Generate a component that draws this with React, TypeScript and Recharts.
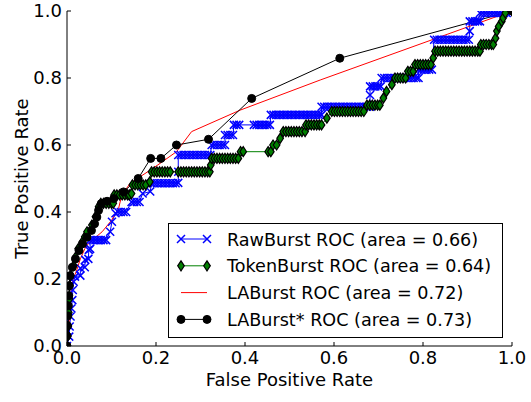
import { Legend, Line, LineChart, XAxis, YAxis } from 'recharts';

// axis ticks (both axes run 0..1)
const ticks = [0, 0.2, 0.4, 0.6, 0.8, 1.0];

// RawBurst ROC points [fpr, tpr]
const rawRoc: [number, number][] = [
  [0, 0], [0.005, 0.028], [0.006, 0.058], [0.008, 0.088], [0.01, 0.112], [0.012, 0.137], [0.013, 0.167], [0.015, 0.192],
  [0.018, 0.207], [0.03, 0.21], [0.03, 0.232], [0.04, 0.235], [0.041, 0.257], [0.048, 0.26], [0.049, 0.287], [0.052, 0.29],
  [0.052, 0.316], [0.058, 0.316], [0.064, 0.316], [0.07, 0.316], [0.076, 0.316], [0.082, 0.316], [0.088, 0.316],
  [0.097, 0.341], [0.101, 0.371], [0.109, 0.396], [0.115, 0.4], [0.121, 0.4], [0.127, 0.4], [0.133, 0.4],
  [0.145, 0.43], [0.151, 0.43], [0.157, 0.43], [0.163, 0.43], [0.17, 0.455], [0.187, 0.461],
  [0.19, 0.486], [0.196, 0.486], [0.202, 0.486], [0.208, 0.486], [0.214, 0.486], [0.22, 0.486], [0.226, 0.486], [0.232, 0.486],
  [0.238, 0.486], [0.244, 0.486], [0.25, 0.487], [0.25, 0.52], [0.25, 0.57],
  [0.256, 0.57], [0.262, 0.57], [0.268, 0.57], [0.274, 0.57], [0.28, 0.57], [0.286, 0.57], [0.292, 0.57], [0.298, 0.57],
  [0.304, 0.57], [0.31, 0.57], [0.316, 0.57], [0.322, 0.57], [0.325, 0.6], [0.331, 0.6], [0.337, 0.6], [0.343, 0.6],
  [0.349, 0.6], [0.355, 0.6], [0.355, 0.63], [0.361, 0.63], [0.367, 0.63], [0.373, 0.63], [0.375, 0.66], [0.381, 0.66],
  [0.387, 0.66], [0.42, 0.66], [0.426, 0.66], [0.432, 0.66], [0.438, 0.66], [0.444, 0.66], [0.45, 0.66], [0.456, 0.66],
  [0.458, 0.69], [0.464, 0.69], [0.47, 0.69], [0.476, 0.69], [0.482, 0.69], [0.488, 0.69], [0.494, 0.69], [0.5, 0.69],
  [0.506, 0.69], [0.512, 0.69], [0.518, 0.69], [0.524, 0.69], [0.53, 0.69], [0.536, 0.69], [0.542, 0.69], [0.548, 0.69],
  [0.554, 0.69], [0.56, 0.69], [0.566, 0.69], [0.572, 0.69], [0.572, 0.714], [0.578, 0.714], [0.584, 0.714], [0.59, 0.714],
  [0.596, 0.714], [0.602, 0.714], [0.608, 0.714], [0.614, 0.714], [0.62, 0.714], [0.626, 0.714], [0.632, 0.714],
  [0.638, 0.714], [0.644, 0.714], [0.65, 0.714], [0.656, 0.714], [0.662, 0.714], [0.668, 0.714], [0.674, 0.714],
  [0.681, 0.714], [0.681, 0.749], [0.681, 0.775], [0.687, 0.775], [0.693, 0.775], [0.699, 0.775], [0.705, 0.775],
  [0.707, 0.8], [0.713, 0.8], [0.719, 0.8], [0.725, 0.8], [0.731, 0.8], [0.737, 0.8], [0.743, 0.8], [0.749, 0.8],
  [0.755, 0.8], [0.761, 0.8], [0.767, 0.8], [0.773, 0.8], [0.779, 0.8], [0.785, 0.8], [0.79, 0.8], [0.79, 0.825],
  [0.796, 0.825], [0.802, 0.825], [0.808, 0.825], [0.814, 0.825], [0.82, 0.825], [0.825, 0.914], [0.831, 0.914],
  [0.837, 0.914], [0.843, 0.914], [0.849, 0.914], [0.855, 0.914], [0.861, 0.914], [0.867, 0.914], [0.873, 0.914],
  [0.879, 0.914], [0.885, 0.914], [0.891, 0.914], [0.897, 0.914], [0.903, 0.914], [0.905, 0.94], [0.905, 0.969],
  [0.911, 0.969], [0.917, 0.969], [0.923, 0.969], [0.928, 0.969], [0.928, 0.994], [0.934, 0.994], [0.94, 0.994],
  [0.946, 0.994], [0.952, 0.994], [0.958, 0.994], [0.964, 0.994], [0.97, 0.994], [0.976, 0.994], [0.982, 0.994],
  [0.988, 0.994], [1, 1],
];

// TokenBurst ROC points [fpr, tpr]
const tokenRoc: [number, number][] = [
  [0, 0], [0.002, 0.03], [0.003, 0.06], [0.004, 0.1], [0.005, 0.14], [0.006, 0.18], [0.008, 0.21], [0.015, 0.24],
  [0.019, 0.265], [0.025, 0.29], [0.034, 0.31], [0.04, 0.326], [0.045, 0.341], [0.056, 0.361], [0.064, 0.386],
  [0.071, 0.416], [0.076, 0.426], [0.082, 0.426], [0.088, 0.426], [0.094, 0.426], [0.1, 0.426], [0.104, 0.426],
  [0.106, 0.451], [0.112, 0.451], [0.118, 0.451], [0.124, 0.451], [0.13, 0.451], [0.136, 0.451], [0.14, 0.451],
  [0.145, 0.455], [0.147, 0.481], [0.153, 0.481], [0.159, 0.481], [0.165, 0.481], [0.171, 0.481], [0.177, 0.481],
  [0.186, 0.49], [0.19, 0.52], [0.196, 0.52], [0.202, 0.52], [0.208, 0.52], [0.214, 0.52], [0.22, 0.52], [0.226, 0.52],
  [0.232, 0.52], [0.25, 0.52], [0.256, 0.52], [0.262, 0.52], [0.268, 0.52], [0.274, 0.52], [0.28, 0.52], [0.286, 0.52],
  [0.292, 0.52], [0.298, 0.52], [0.304, 0.52], [0.31, 0.52], [0.316, 0.52], [0.321, 0.52], [0.323, 0.54],
  [0.325, 0.56], [0.331, 0.56], [0.337, 0.56], [0.343, 0.56], [0.349, 0.56], [0.355, 0.56], [0.361, 0.56], [0.367, 0.56],
  [0.373, 0.56], [0.379, 0.56], [0.385, 0.56], [0.39, 0.58], [0.396, 0.58], [0.452, 0.58], [0.458, 0.58],
  [0.463, 0.6], [0.471, 0.6], [0.479, 0.62], [0.486, 0.64], [0.492, 0.64], [0.498, 0.64], [0.504, 0.64], [0.51, 0.64],
  [0.516, 0.64], [0.522, 0.64], [0.528, 0.64], [0.535, 0.64], [0.537, 0.66], [0.543, 0.66], [0.549, 0.66], [0.555, 0.66],
  [0.561, 0.66], [0.567, 0.66], [0.572, 0.66], [0.584, 0.68], [0.595, 0.7], [0.601, 0.7], [0.607, 0.7], [0.613, 0.7],
  [0.619, 0.7], [0.625, 0.7], [0.631, 0.7], [0.637, 0.7], [0.643, 0.7], [0.649, 0.7], [0.655, 0.7], [0.661, 0.7],
  [0.667, 0.7], [0.674, 0.719], [0.68, 0.719], [0.686, 0.719], [0.692, 0.719], [0.698, 0.719], [0.703, 0.719],
  [0.711, 0.74], [0.718, 0.76], [0.73, 0.78], [0.737, 0.8], [0.743, 0.8], [0.749, 0.8], [0.755, 0.8], [0.761, 0.8],
  [0.766, 0.82], [0.772, 0.82], [0.778, 0.82], [0.782, 0.84], [0.788, 0.84], [0.794, 0.84], [0.8, 0.84], [0.806, 0.84],
  [0.812, 0.84], [0.818, 0.84], [0.823, 0.86], [0.827, 0.88], [0.833, 0.88], [0.839, 0.88], [0.845, 0.88], [0.851, 0.88],
  [0.857, 0.88], [0.863, 0.88], [0.869, 0.88], [0.875, 0.88], [0.881, 0.88], [0.887, 0.88], [0.893, 0.88], [0.899, 0.88],
  [0.905, 0.88], [0.911, 0.88], [0.917, 0.88], [0.923, 0.88], [0.928, 0.88], [0.93, 0.9], [0.936, 0.9], [0.942, 0.9],
  [0.948, 0.9], [0.954, 0.9], [0.958, 0.9], [0.963, 0.919], [0.966, 0.94], [0.97, 0.954], [0.977, 0.969],
  [0.98, 0.979], [0.985, 0.994], [1, 1],
];

// LABurst ROC points [fpr, tpr]
const laRoc: [number, number][] = [
  [0, 0], [0.004, 0.06], [0.007, 0.12], [0.01, 0.17], [0.014, 0.2], [0.022, 0.227], [0.03, 0.26], [0.04, 0.29],
  [0.048, 0.306], [0.079, 0.341], [0.1, 0.375], [0.116, 0.411], [0.123, 0.45], [0.142, 0.486], [0.164, 0.505],
  [0.187, 0.525], [0.209, 0.545], [0.246, 0.58], [0.28, 0.64], [0.389, 0.704], [0.569, 0.794], [1, 1],
];

// LABurst* ROC points [fpr, tpr]
const laStarRoc: [number, number][] = [
  [0, 0], [0, 0.03], [0.001, 0.06], [0.002, 0.09], [0.003, 0.12], [0.004, 0.15], [0.005, 0.18], [0.007, 0.21],
  [0.012, 0.235], [0.019, 0.26], [0.027, 0.285], [0.035, 0.305], [0.045, 0.325], [0.055, 0.345], [0.062, 0.365],
  [0.067, 0.385], [0.071, 0.405], [0.077, 0.425], [0.09, 0.432], [0.105, 0.44], [0.127, 0.46], [0.16, 0.5],
  [0.188, 0.56], [0.211, 0.56], [0.246, 0.6], [0.318, 0.617], [0.415, 0.739], [0.613, 0.859], [1, 1],
];

const seriesNames = ['RawBurst ROC', 'TokenBurst ROC', 'LABurst ROC', 'LABurst* ROC'];
const seriesAreas = [0.66, 0.64, 0.72, 0.73];

const FONT = '"DejaVu Sans", sans-serif';

const toPoints = (pts: [number, number][]) => pts.map(([x, y]) => ({ x, y }));

const rawData = toPoints(rawRoc);
const tokenData = toPoints(tokenRoc);
const laData = toPoints(laRoc);
const laStarData = toPoints(laStarRoc);

function xMark(cx: number, cy: number, key?: string) {
  const s = 4;
  return (
    <path
      key={key}
      d={`M${cx - s},${cy - s}L${cx + s},${cy + s}M${cx - s},${cy + s}L${cx + s},${cy - s}`}
      stroke="#0000ff"
      strokeWidth={1.5}
      fill="none"
    />
  );
}

function diamond(cx: number, cy: number, key?: string) {
  return (
    <path
      key={key}
      d={`M${cx},${cy - 5}L${cx + 3.3},${cy}L${cx},${cy + 5}L${cx - 3.3},${cy}Z`}
      fill="#008000"
      stroke="#000"
      strokeWidth={1.2}
    />
  );
}

function circle(cx: number, cy: number, key?: string) {
  return <circle key={key} cx={cx} cy={cy} r={4} fill="#000" stroke="#000" />;
}

const RawDot = (p: any) => (p.cx == null ? <g key={`r${p.index}`} /> : xMark(p.cx, p.cy, `r${p.index}`));
const TokenDot = (p: any) => (p.cx == null ? <g key={`t${p.index}`} /> : diamond(p.cx, p.cy, `t${p.index}`));
const StarDot = (p: any) => (p.cx == null ? <g key={`s${p.index}`} /> : circle(p.cx, p.cy, `s${p.index}`));

const handles = [
  { color: '#0000ff', mark: xMark },
  { color: '#008000', mark: diamond },
  { color: '#ff0000', mark: null },
  { color: '#000000', mark: circle },
];

function LegendBox() {
  return (
    <svg width={335} height={115} style={{ display: 'block' }}>
      <rect x={0.5} y={0.5} width={334} height={114} fill="#fff" stroke="#000" />
      {seriesNames.map((name, i) => {
        const cy = 16 + i * 26.8;
        const h = handles[i];
        return (
          <g key={name}>
            <line x1={13} x2={39} y1={cy} y2={cy} stroke={h.color} strokeWidth={1} />
            {h.mark && h.mark(13, cy, 'a')}
            {h.mark && h.mark(39, cy, 'b')}
            <text x={59} y={cy + 6.5} fontSize={17.6} fontFamily={FONT} fill="#000">
              {`${name} (area = ${seriesAreas[i].toFixed(2)})`}
            </text>
          </g>
        );
      })}
    </svg>
  );
}

const fmt = (v: number) => v.toFixed(1);

export default function App() {
  return (
    <div style={{ position: 'absolute', left: 0, top: 0, width: 531, height: 402, background: '#fff' }}>
      <LineChart width={531} height={402} margin={{ top: 11, right: 19, bottom: 11, left: 7 }}>
        <XAxis
          dataKey="x"
          type="number"
          domain={[0, 1]}
          ticks={ticks}
          tickFormatter={fmt}
          allowDataOverflow
          height={45}
          stroke="#000"
          tickSize={-4}
          tickMargin={9}
          tick={{ fill: '#000', fontSize: 18, fontFamily: FONT }}
          label={{ value: 'False Positive Rate', position: 'insideBottom', offset: 5, fill: '#000', fontSize: 18, fontFamily: FONT }}
        />
        <XAxis
          xAxisId="top"
          orientation="top"
          type="number"
          domain={[0, 1]}
          ticks={ticks}
          allowDataOverflow
          height={0}
          stroke="#000"
          tickSize={-4}
          tick={false}
        />
        <YAxis
          type="number"
          domain={[0, 1]}
          ticks={ticks}
          tickFormatter={fmt}
          allowDataOverflow
          width={60}
          stroke="#000"
          tickSize={-4}
          tickMargin={9}
          tick={{ fill: '#000', fontSize: 18, fontFamily: FONT }}
          label={{ value: 'True Positive Rate', angle: -90, position: 'center', dx: -15, fill: '#000', fontSize: 18, fontFamily: FONT }}
        />
        <YAxis
          yAxisId="right"
          orientation="right"
          type="number"
          domain={[0, 1]}
          ticks={ticks}
          allowDataOverflow
          width={0}
          stroke="#000"
          tickSize={-4}
          tick={false}
        />
        <Line data={rawData} dataKey="y" type="linear" stroke="#0000ff" strokeWidth={1} dot={RawDot} activeDot={false} isAnimationActive={false} />
        <Line data={tokenData} dataKey="y" type="linear" stroke="#008000" strokeWidth={1} dot={TokenDot} activeDot={false} isAnimationActive={false} />
        <Line data={laData} dataKey="y" type="linear" stroke="#ff0000" strokeWidth={1} dot={false} activeDot={false} isAnimationActive={false} />
        <Line data={laStarData} dataKey="y" type="linear" stroke="#000000" strokeWidth={1} dot={StarDot} activeDot={false} isAnimationActive={false} />
        <Legend
          layout="vertical"
          align="center"
          verticalAlign="middle"
          content={() => <LegendBox />}
          wrapperStyle={{ left: 168, top: 223, width: 335, height: 115 }}
        />
      </LineChart>
    </div>
  );
}
